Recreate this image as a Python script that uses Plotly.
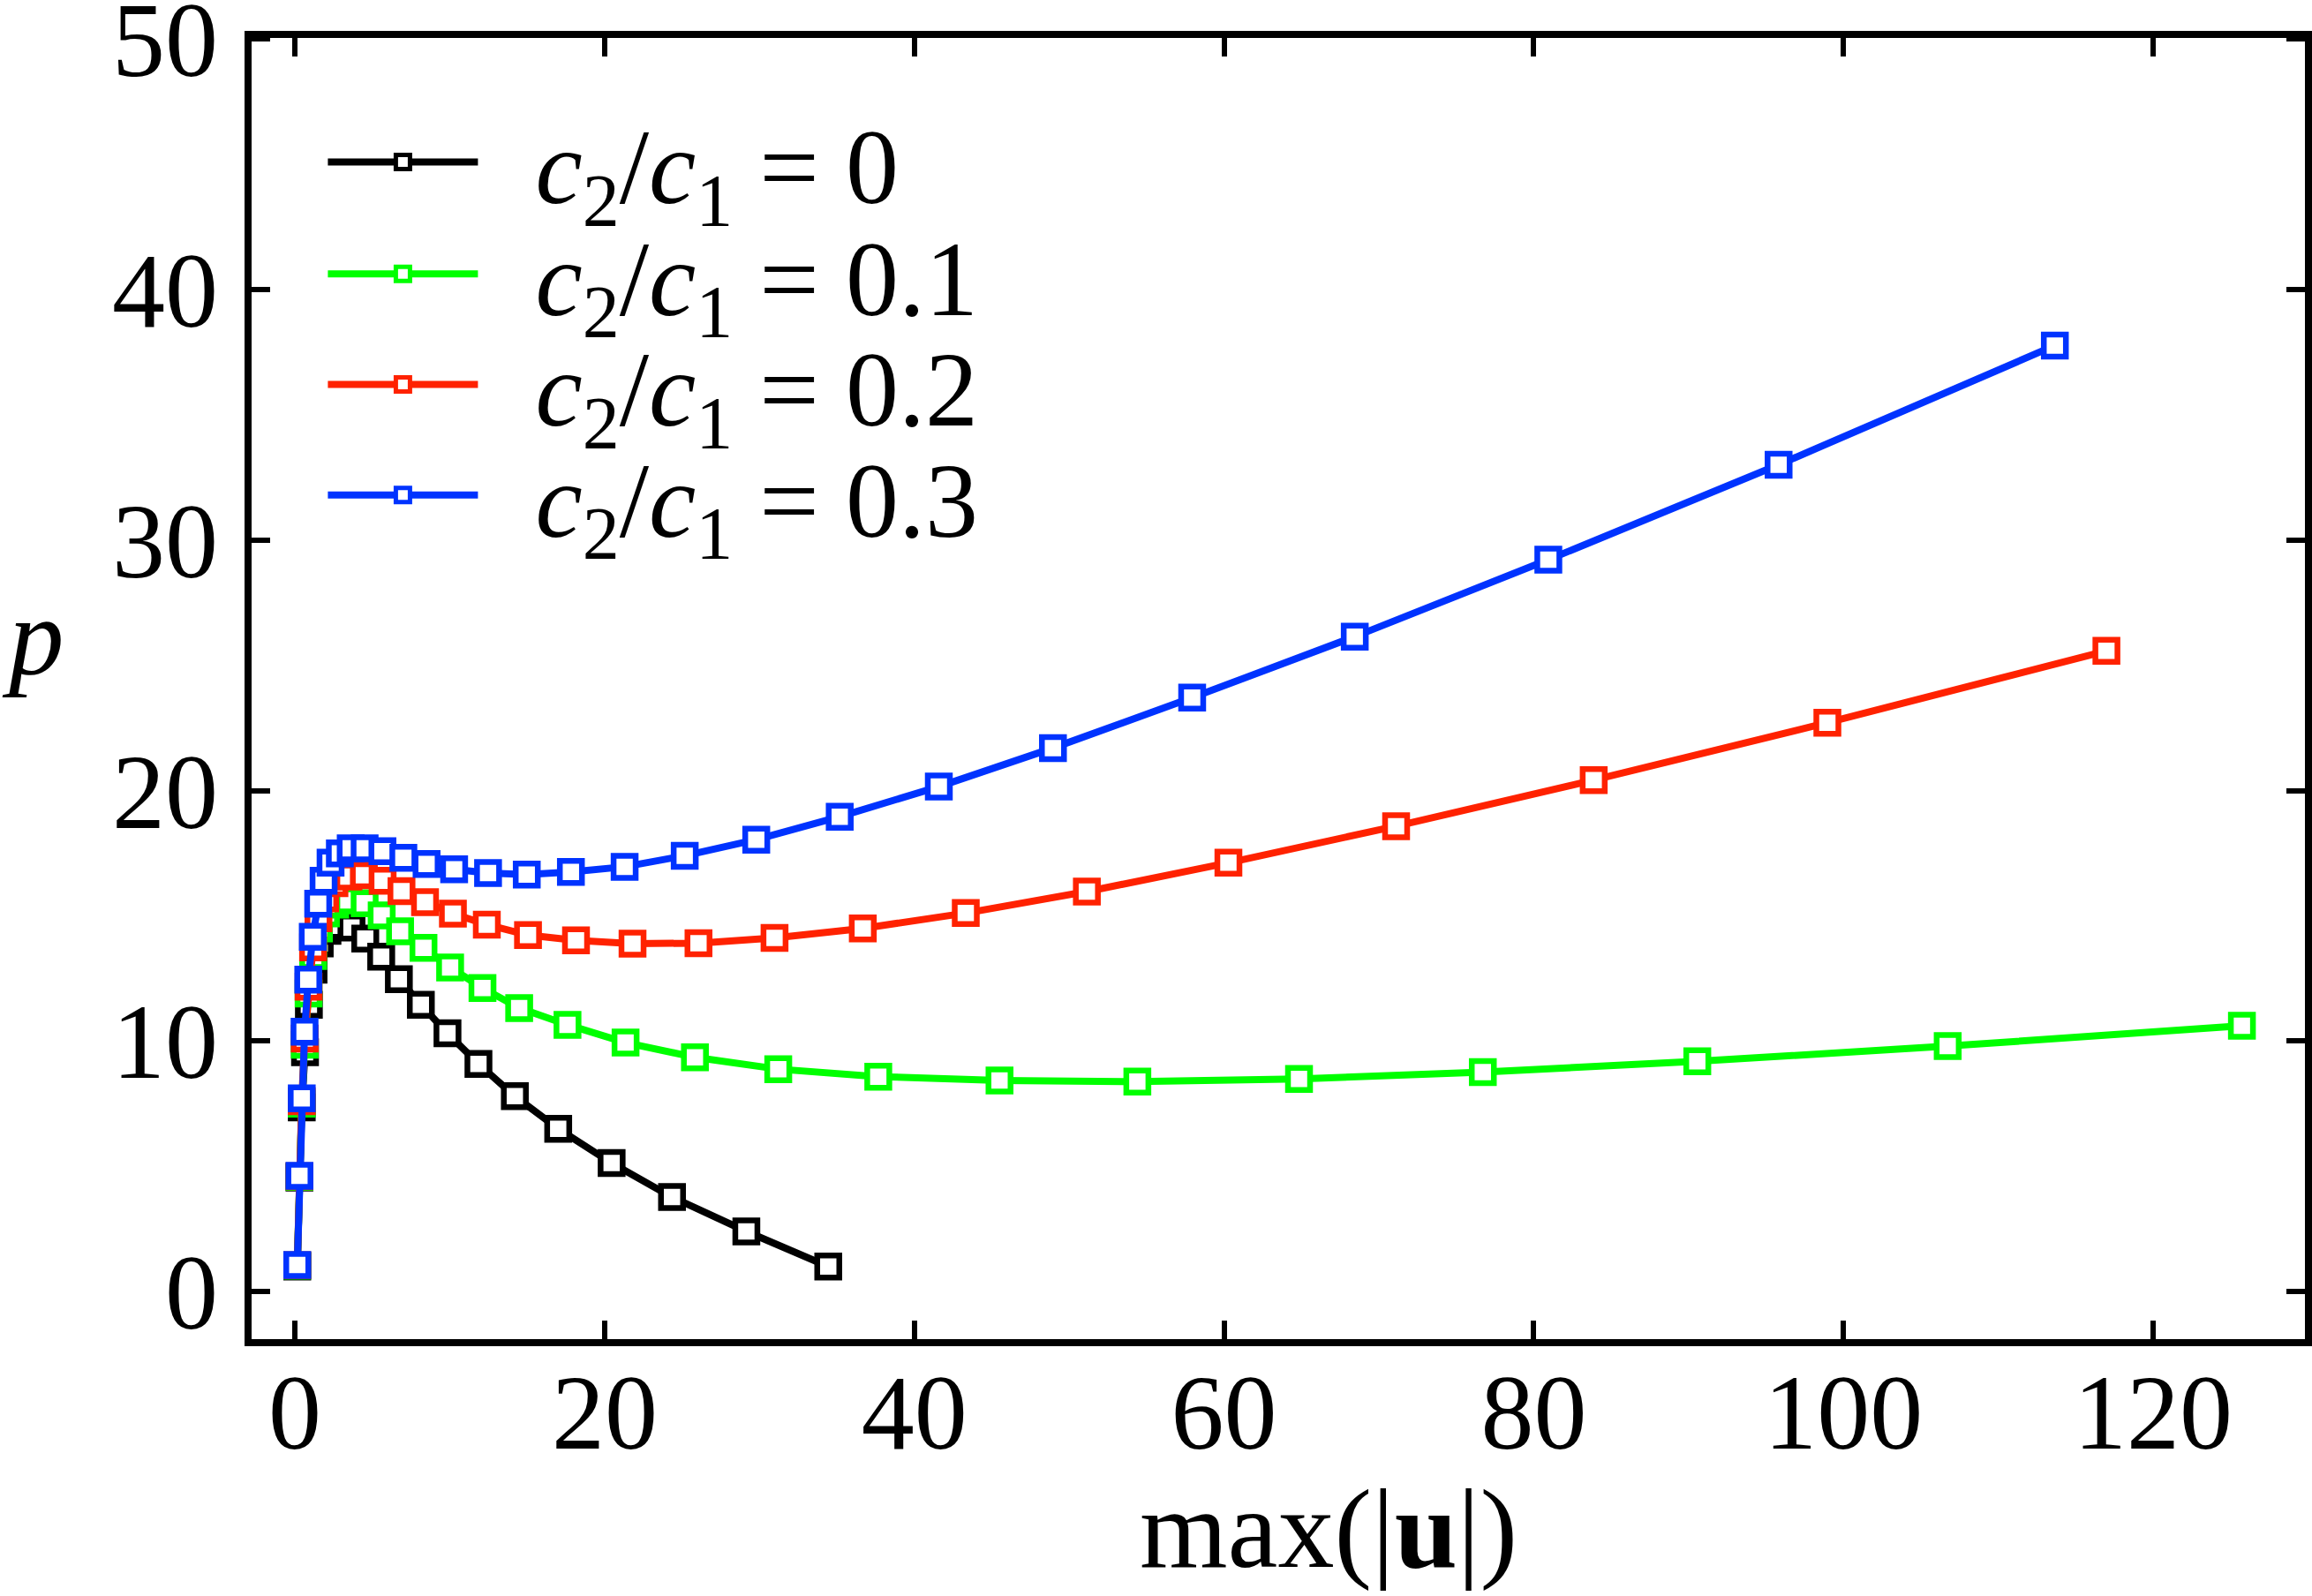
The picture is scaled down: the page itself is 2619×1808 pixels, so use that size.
import plotly.graph_objects as go

# ---- data ----
x_c0 = [0.15, 0.29, 0.44, 0.65, 0.9, 1.2, 1.6, 2.1, 2.8, 3.65, 4.54, 5.57, 6.71, 8.13, 9.85,
        11.85, 14.2, 17.0, 20.45, 24.35, 29.15, 34.44]
y_c0 = [1.0, 4.55, 7.35, 9.55, 11.45, 12.85, 13.9, 14.4, 14.6, 14.53, 14.09, 13.37, 12.47, 11.45, 10.31,
        9.09, 7.8, 6.5, 5.13, 3.77, 2.4, 1.0]

x_c1 = [0.15, 0.29, 0.44, 0.63, 0.88, 1.18, 1.55, 2.0, 2.6, 3.45, 4.5, 5.6, 6.79, 8.3, 10.02,
        12.11, 14.48, 17.6, 21.35, 25.83, 31.21, 37.67, 45.5, 54.4, 64.84, 76.71, 90.56, 106.73, 125.73]
y_c1 = [1.03, 4.58, 7.5, 9.85, 11.9, 13.4, 14.5, 15.1, 15.45, 15.62, 15.5, 15.02, 14.38, 13.72, 12.94,
        12.12, 11.32, 10.65, 9.94, 9.35, 8.88, 8.58, 8.43, 8.38, 8.49, 8.76, 9.19, 9.80, 10.61]

x_c2 = [0.15, 0.29, 0.44, 0.63, 0.88, 1.17, 1.52, 1.95, 2.55, 3.45, 4.45, 5.66, 6.88, 8.4, 10.2,
        12.39, 15.05, 18.15, 21.8, 26.06, 30.97, 36.67, 43.32, 51.14, 60.28, 71.11, 83.87, 98.96, 116.98]
y_c2 = [1.05, 4.6, 7.6, 10.1, 12.17, 13.74, 14.9, 15.7, 16.3, 16.57, 16.62, 16.4, 15.99, 15.55, 15.09,
        14.65, 14.23, 14.02, 13.89, 13.91, 14.12, 14.5, 15.11, 15.97, 17.12, 18.58, 20.42, 22.71, 25.58]

x_c3 = [0.15, 0.29, 0.44, 0.62, 0.86, 1.15, 1.5, 1.85, 2.3, 2.9, 3.6, 4.5, 5.65, 7.0, 8.5,
        10.28, 12.47, 14.97, 17.82, 21.29, 25.17, 29.79, 35.18, 41.58, 48.95, 57.94, 68.44, 80.94, 95.81, 113.65]
y_c3 = [1.06, 4.62, 7.71, 10.37, 12.45, 14.16, 15.48, 16.4, 17.12, 17.49, 17.7, 17.7, 17.58, 17.32, 17.07,
        16.86, 16.71, 16.65, 16.75, 16.96, 17.40, 18.04, 18.96, 20.16, 21.7, 23.71, 26.15, 29.22, 33.01, 37.77]

series_names = ["0", "0.1", "0.2", "0.3"]
series_colors = ["#000000", "#00ff00", "#ff2200", "#0033ff"]
x_ticks = [0, 20, 40, 60, 80, 100, 120]
y_ticks = [0, 10, 20, 30, 40, 50]

xs = [x_c0, x_c1, x_c2, x_c3]
ys = [y_c0, y_c1, y_c2, y_c3]

FONT = "Liberation Serif, Times New Roman, serif"
legend_ids = ["legend", "legend2", "legend3", "legend4"]
legend_tops = [0.962, 0.876, 0.791, 0.706]

fig = go.Figure()
for xv, yv, nm, col, lid in zip(xs, ys, series_names, series_colors, legend_ids):
    fig.add_trace(go.Scatter(
        x=xv, y=yv, mode="lines+markers",
        name="\u00a0\u00a0<i>c</i><sub>2</sub>/<i>c</i><sub>1</sub> = " + nm,
        legend=lid,
        line=dict(color=col, width=8),
        marker=dict(symbol="square", size=25, color="white",
                    line=dict(color=col, width=6.5)),
    ))

axis_common = dict(
    showline=True, linewidth=8, linecolor="black", mirror="ticks",
    ticks="inside", ticklen=21, tickwidth=6, tickcolor="black",
    showgrid=False, zeroline=False, ticklabeloverflow="allow", automargin=False,
    tickfont=dict(family=FONT, size=120, color="black"),
)

legend_common = dict(xanchor="left", yanchor="top", x=0.035,
                     bgcolor="rgba(0,0,0,0)", borderwidth=0,
                     font=dict(family=FONT, size=120, color="black"),
                     itemwidth=170)

layout_legends = {lid: dict(y=yt, **legend_common) for lid, yt in zip(legend_ids, legend_tops)}

fig.update_layout(
    width=2619, height=1808, autosize=False,
    margin=dict(l=285, r=8, t=43, b=291),
    paper_bgcolor="white", plot_bgcolor="white",
    font=dict(family=FONT, size=120, color="black"),
    xaxis=dict(range=[-2.8, 129.8], tickvals=x_ticks, ticklabelstandoff=-28, **axis_common),
    yaxis=dict(range=[-1.9, 50.05], tickvals=y_ticks, ticklabelstandoff=6, **axis_common),
    annotations=[
        dict(text="<i>p</i>", xref="paper", yref="paper",
             x=-0.1225, y=0.54, xanchor="left", yanchor="middle",
             showarrow=False, font=dict(family=FONT, size=125, color="black")),
        dict(text="max(|<b>u</b>|)", xref="paper", yref="paper",
             x=0.5245, y=-0.146, xanchor="center", yanchor="middle",
             showarrow=False, font=dict(family=FONT, size=128, color="black")),
    ],
    showlegend=True,
    **layout_legends,
)

fig.write_html("out.html")
